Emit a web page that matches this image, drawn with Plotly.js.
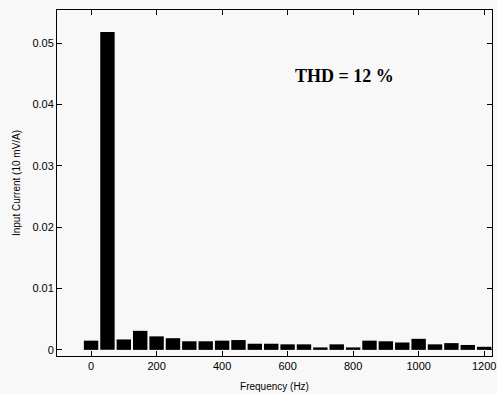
<!DOCTYPE html>
<html>
<head>
<meta charset="utf-8">
<script src="https://cdn.plot.ly/plotly-3.0.1.min.js"></script>
<style>html,body{margin:0;padding:0;background:#f8f8f8;}#chart{width:497px;height:394px;}</style>
</head>
<body>
<div id="chart"></div>
<script>
const frequencies = [0, 50, 100, 150, 200, 250, 300, 350, 400, 450, 500, 550, 600, 650, 700, 750, 800, 850, 900, 950, 1000, 1050, 1100, 1150, 1200];
const currents = [0.0015, 0.0518, 0.0017, 0.0031, 0.0022, 0.0019, 0.0014, 0.0014, 0.0015, 0.0016, 0.0010, 0.0010, 0.0009, 0.0009, 0.0004, 0.0009, 0.0004, 0.0015, 0.0014, 0.0012, 0.0018, 0.0009, 0.0011, 0.0008, 0.0005];
const xTicks = [0, 200, 400, 600, 800, 1000, 1200];
const yTicks = [0, 0.01, 0.02, 0.03, 0.04, 0.05];
const yTickText = ['0', '0.01', '0.02', '0.03', '0.04', '0.05'];
const annotationText = 'THD = 12 %';

const trace = {
  type: 'bar',
  x: frequencies,
  y: currents,
  width: 44,
  marker: {color: '#000000', line: {width: 0}},
  hoverinfo: 'none'
};

const layout = {
  width: 497,
  height: 394,
  margin: {l: 57, r: 5, t: 10, b: 38},
  paper_bgcolor: '#f8f8f8',
  plot_bgcolor: '#f8f8f8',
  showlegend: false,
  font: {family: 'Liberation Sans, Arial, sans-serif', size: 11, color: '#000'},
  xaxis: {
    range: [-104, 1224],
    tickvals: xTicks,
    ticks: 'inside',
    ticklen: 5,
    tickcolor: '#000',
    showline: true,
    linecolor: '#000',
    linewidth: 1,
    mirror: 'ticks',
    showgrid: false,
    zeroline: false,
    automargin: false,
    tickfont: {size: 11},
    title: {text: 'Frequency (Hz)', font: {size: 10}, standoff: 11}
  },
  yaxis: {
    range: [-0.001, 0.0554],
    tickvals: yTicks,
    ticktext: yTickText,
    ticks: 'inside',
    ticklen: 5,
    tickcolor: '#000',
    showline: true,
    linecolor: '#000',
    linewidth: 1,
    mirror: 'ticks',
    showgrid: false,
    zeroline: false,
    automargin: false,
    tickfont: {size: 11},
    title: {text: 'Input Current (10 mV/A)', font: {size: 10}, standoff: 9}
  },
  annotations: [{
    x: 775, y: 0.0446, xref: 'x', yref: 'y',
    text: '<b>' + annotationText + '</b>',
    showarrow: false,
    font: {family: 'Liberation Serif, Times New Roman, serif', size: 18, color: '#000'}
  }]
};

Plotly.newPlot('chart', [trace], layout, {displayModeBar: false, staticPlot: true});
</script>
</body>
</html>
